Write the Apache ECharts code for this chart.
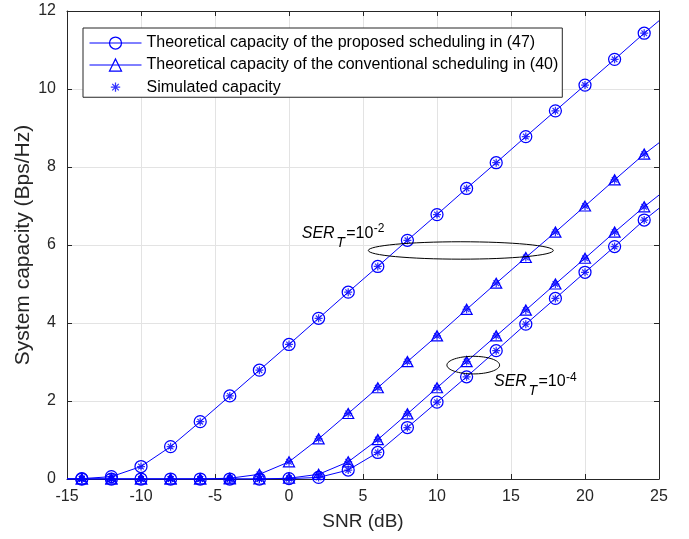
<!DOCTYPE html>
<html>
<head>
<meta charset="utf-8">
<script src="https://cdn.jsdelivr.net/npm/echarts@6/dist/echarts.min.js"></script>
<style>
  html, body { margin: 0; padding: 0; background: #fff; }
  #chart { width: 689px; height: 539px; }
</style>
</head>
<body>
<div id="chart"></div>
<script>
// SNR points (dB) where markers are placed, plus the two ends of each curve
const snrMarks = [-14, -12, -10, -8, -6, -4, -2, 0, 2, 4, 6, 8, 10, 12, 14, 16, 18, 20, 22, 24];
const snrEnds = [-15, 25];

// Proposed scheduling, SER_T = 1e-2
const proposedSer2 = [0.01, 0.06, 0.32, 0.83, 1.47, 2.13, 2.79, 3.45, 4.12, 4.79, 5.45, 6.12, 6.78, 7.45, 8.11, 8.78, 9.44, 10.1, 10.76, 11.43];
const proposedSer2Ends = [0, 11.75];
// Conventional scheduling, SER_T = 1e-2
const conventionalSer2 = [0, 0, 0, 0, 0, 0.02, 0.12, 0.44, 1.03, 1.68, 2.34, 3.01, 3.67, 4.35, 5.02, 5.68, 6.33, 7.0, 7.67, 8.33];
const conventionalSer2Ends = [0, 8.62];
// Conventional scheduling, SER_T = 1e-4
const conventionalSer4 = [0, 0, 0, 0, 0, 0, 0, 0.02, 0.12, 0.44, 1.01, 1.67, 2.34, 3.01, 3.67, 4.33, 5.0, 5.66, 6.33, 6.98];
const conventionalSer4Ends = [0, 7.28];
// Proposed scheduling, SER_T = 1e-4
const proposedSer4 = [0, 0, 0, 0, 0, 0, 0, 0.01, 0.04, 0.23, 0.68, 1.32, 1.97, 2.62, 3.29, 3.97, 4.63, 5.3, 5.96, 6.64];
const proposedSer4Ends = [0, 6.94];

// Y ticks (Bps/Hz) and X ticks (dB)
const yTicks = [0, 2, 4, 6, 8, 10, 12];
const xTicks = [-15, -10, -5, 0, 5, 10, 15, 20, 25];

const nameProposed = 'Theoretical capacity of the proposed scheduling in (47)';
const nameConventional = 'Theoretical capacity of the conventional scheduling in (40)';
const nameSimulated = 'Simulated capacity';

const FONT = '"Liberation Sans", Arial, Helvetica, sans-serif';
const BLUE = '#0000ff';
const AXIS = '#262626';
const GRID = '#e3e3e3';

const asteriskPath = 'path://M5,0L5,10M0,5L10,5M1.5,1.5L8.5,8.5M1.5,8.5L8.5,1.5';
const asteriskLegendPath = 'path://M-3,-3L-3,-3M13,13L13,13M5,0L5,10M0,5L10,5M1.5,1.5L8.5,8.5M1.5,8.5L8.5,1.5';

function curveData(values, ends) {
  const pts = snrMarks.map((x, i) => [x, values[i]]);
  return [{ value: [snrEnds[0], ends[0]], symbol: 'none' }]
    .concat(pts)
    .concat([{ value: [snrEnds[1], ends[1]], symbol: 'none' }]);
}

function theoryLine(name, values, ends, symbol, size) {
  return {
    type: 'line',
    name: name,
    data: curveData(values, ends),
    symbol: symbol,
    symbolSize: size,
    showAllSymbol: true,
    lineStyle: { color: BLUE, width: 1 },
    itemStyle: { color: 'rgba(0,0,0,0)', borderColor: BLUE, borderWidth: 1.25 },
    emphasis: { disabled: true },
    animation: false,
    z: 2
  };
}

const simulatedPoints = [];
[proposedSer2, conventionalSer2, conventionalSer4, proposedSer4].forEach(arr => {
  snrMarks.forEach((x, i) => simulatedPoints.push([x, arr[i]]));
});

const axisCommon = {
  axisLine: { show: true, onZero: false, lineStyle: { color: AXIS, width: 1 } },
  axisTick: { show: true, inside: true, length: 5, lineStyle: { color: AXIS } }
};

const chart = echarts.init(document.getElementById('chart'), null, { renderer: 'canvas' });

chart.setOption({
  backgroundColor: '#fff',
  animation: false,
  grid: { left: 67, right: 30, top: 11, bottom: 60, containLabel: false, outerBoundsMode: 'none' },
  xAxis: [
    Object.assign({
      type: 'value', position: 'bottom',
      min: xTicks[0], max: xTicks[xTicks.length - 1], interval: 5,
      name: 'SNR (dB)', nameLocation: 'middle', nameGap: 33, nameMoveOverlap: false,
      nameTextStyle: { fontFamily: FONT, fontSize: 19, color: AXIS },
      axisLabel: { color: AXIS, fontFamily: FONT, fontSize: 16, margin: 10 },
      splitLine: { show: true, lineStyle: { color: GRID, width: 1 } }
    }, axisCommon),
    Object.assign({
      type: 'value', position: 'top',
      min: xTicks[0], max: xTicks[xTicks.length - 1], interval: 5,
      axisLabel: { show: false }, splitLine: { show: false }
    }, axisCommon)
  ],
  yAxis: [
    Object.assign({
      type: 'value', position: 'left',
      min: yTicks[0], max: yTicks[yTicks.length - 1], interval: 2,
      name: 'System capacity (Bps/Hz)', nameLocation: 'middle', nameGap: 33, nameMoveOverlap: false,
      nameTextStyle: { fontFamily: FONT, fontSize: 21, color: AXIS },
      axisLabel: { color: AXIS, fontFamily: FONT, fontSize: 16, margin: 11 },
      splitLine: { show: true, lineStyle: { color: GRID, width: 1 } }
    }, axisCommon),
    Object.assign({
      type: 'value', position: 'right',
      min: yTicks[0], max: yTicks[yTicks.length - 1], interval: 2,
      axisLabel: { show: false }, splitLine: { show: false }
    }, axisCommon)
  ],
  legend: {
    orient: 'vertical',
    left: 83, top: 28,
    itemWidth: 52, itemHeight: 15, itemGap: 6,
    padding: [7, 4, 2, 6],
    backgroundColor: '#fff',
    borderColor: AXIS, borderWidth: 1, borderRadius: 0,
    selectedMode: false,
    lineStyle: { width: 1 },
    itemStyle: { borderWidth: 1.25 },
    textStyle: { fontFamily: FONT, fontSize: 16, color: '#000', lineHeight: 16 },
    data: [
      { name: nameProposed },
      { name: nameConventional },
      { name: nameSimulated, icon: asteriskLegendPath }
    ]
  },
  series: [
    theoryLine(nameProposed, proposedSer2, proposedSer2Ends, 'circle', 12),
    theoryLine(nameConventional, conventionalSer2, conventionalSer2Ends, 'triangle', [11, 10]),
    theoryLine(nameConventional, conventionalSer4, conventionalSer4Ends, 'triangle', [11, 10]),
    theoryLine(nameProposed, proposedSer4, proposedSer4Ends, 'circle', 12),
    {
      type: 'scatter',
      name: nameSimulated,
      data: simulatedPoints,
      symbol: asteriskPath,
      symbolSize: 8,
      itemStyle: { color: 'rgba(0,0,0,0)', borderColor: BLUE, borderWidth: 1.25 },
      emphasis: { disabled: true },
      animation: false,
      z: 3
    }
  ]
});

// Annotations: SER_T labels with an ellipse around each group of curves
const measureCtx = document.createElement('canvas').getContext('2d');
function textWidth(str, size, italic) {
  measureCtx.font = (italic ? 'italic ' : '') + size + 'px ' + FONT;
  return measureCtx.measureText(str).width;
}

function serLabel(anchor, exponent) {
  const p = chart.convertToPixel({ gridIndex: 0 }, anchor);
  const x0 = p[0], y0 = p[1];
  const wSer = textWidth('SER', 16, true);
  const wT = textWidth('T', 14, true);
  const wEq = textWidth('=10', 16, false);
  const base = { fill: '#000', verticalAlign: 'middle', align: 'left' };
  return [
    { type: 'text', x: x0, y: y0, style: Object.assign({ text: 'SER', font: 'italic 16px ' + FONT }, base), z: 10 },
    { type: 'text', x: x0 + wSer + 1.5, y: y0 + 9.4, style: Object.assign({ text: 'T', font: 'italic 14px ' + FONT }, base), z: 10 },
    { type: 'text', x: x0 + wSer + wT + 3, y: y0, style: Object.assign({ text: '=10', font: '16px ' + FONT }, base), z: 10 },
    { type: 'text', x: x0 + wSer + wT + 3 + wEq + 0.5, y: y0 - 4.6, style: Object.assign({ text: exponent, font: '12px ' + FONT }, base), z: 10 }
  ];
}

function ellipseAt(center, rxData, ryData) {
  const c = chart.convertToPixel({ gridIndex: 0 }, center);
  const e = chart.convertToPixel({ gridIndex: 0 }, [center[0] + rxData, center[1] + ryData]);
  return {
    type: 'ellipse',
    shape: { cx: c[0], cy: c[1], rx: Math.abs(e[0] - c[0]), ry: Math.abs(c[1] - e[1]) },
    style: { fill: null, stroke: '#000', lineWidth: 1 },
    z: 9
  };
}

chart.setOption({
  graphic: [
    ellipseAt([11.61, 5.86], 6.25, 0.223),
    ellipseAt([12.45, 2.92], 1.78, 0.226)
  ].concat(serLabel([0.86, 6.30], '-2'))
   .concat(serLabel([13.85, 2.49], '-4'))
});
</script>
</body>
</html>
